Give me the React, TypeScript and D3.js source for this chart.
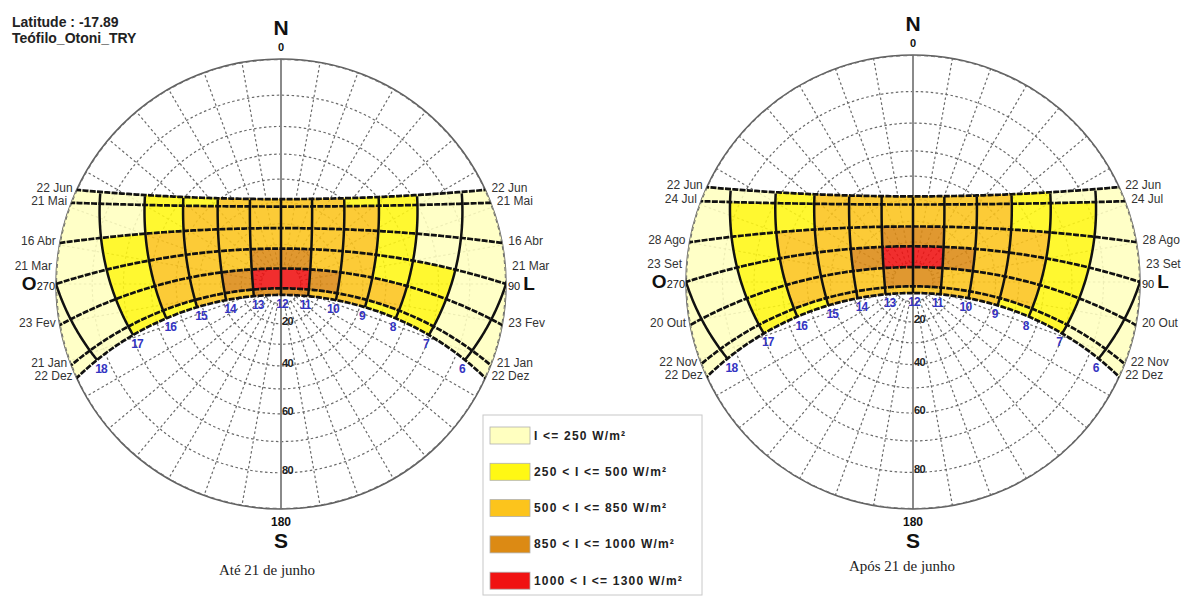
import React from 'react'
import * as d3 from 'd3'

const latitude = -17.89
const stationName = 'Teófilo_Otoni_TRY'

const hourLines = [6, 7, 8, 9, 10, 11, 12, 13, 14, 15, 16, 17, 18]
const cellHours = [5, 6, 7, 8, 9, 10, 11, 12, 13, 14, 15, 16, 17, 18]

const beforeDates = ['22 Dez', '21 Jan', '23 Fev', '21 Mar', '16 Abr', '21 Mai', '22 Jun']
const beforeDecl = [-23.45, -20.1, -10, 0, 10, 20.1, 23.45]
const afterDates = ['22 Dez', '22 Nov', '20 Out', '23 Set', '28 Ago', '24 Jul', '22 Jun']
const afterDecl = [-23.45, -20.1, -10.4, 0, 9.6, 19.8, 23.45]

// irradiance (W/m²) per cell: rows from december up to june, columns by hour 5..18
const beforeIrr = [
  [200, 200, 400, 400, 600, 700, 900, 900, 700, 600, 400, 400, 200, 200],
  [200, 200, 400, 600, 700, 900, 1050, 1050, 900, 700, 600, 400, 200, 200],
  [200, 200, 400, 400, 600, 800, 900, 900, 800, 600, 600, 400, 200, 200],
  [200, 200, 200, 400, 600, 700, 800, 800, 700, 600, 600, 400, 200, 200],
  [200, 200, 200, 400, 600, 700, 700, 700, 700, 600, 400, 200, 200, 200],
  [200, 200, 200, 400, 400, 600, 700, 700, 600, 400, 400, 200, 200, 200],
]
const afterIrr = [
  [200, 200, 400, 400, 600, 700, 700, 700, 700, 600, 400, 400, 200, 200],
  [200, 200, 400, 600, 700, 800, 900, 900, 800, 700, 600, 400, 200, 200],
  [200, 200, 400, 600, 700, 900, 1050, 1050, 900, 700, 600, 400, 200, 200],
  [200, 200, 400, 600, 600, 700, 900, 900, 700, 600, 600, 400, 200, 200],
  [200, 200, 400, 400, 600, 700, 800, 800, 700, 600, 400, 400, 200, 200],
  [200, 200, 200, 400, 600, 600, 700, 700, 600, 600, 400, 200, 200, 200],
]

const classBreaks = [250, 500, 850, 1000]
const classColors = ['#FFFFC0', '#FFF814', '#FCC41C', '#DC8A14', '#F01212']
const legendLabels = [
  'I <= 250 W/m²',
  '250 < I <= 500 W/m²',
  '500 < I <= 850 W/m²',
  '850 < I <= 1000 W/m²',
  '1000 < I <= 1300 W/m²',
]

const zenithRings = [10, 20, 30, 40, 50, 60, 70, 80]
const zenithTicks = [20, 40, 60, 80]

const SANS = 'Liberation Sans, Arial, sans-serif'
const rad = Math.PI / 180

interface SunPathProps {
  id: string
  cx: number
  cy: number
  r: number
  dates: string[]
  decl: number[]
  irr: number[][]
  caption: string
  captionX: number
  captionY: number
}

const SunPath: React.FC<SunPathProps> = ({ id, cx, cy, r, dates, decl, irr, caption, captionX, captionY }) => {
  const phi = latitude * rad
  // stereographic: tan(z/2) -> pixels
  const radius = d3.scaleLinear().domain([0, 1]).range([0, r])
  const color = d3.scaleThreshold<number, string>().domain(classBreaks).range(classColors)
  const line = d3.line()

  const project = (declDeg: number, hourAngle: number): [number, number] => {
    const d = declDeg * rad
    const h = hourAngle * rad
    const e = -Math.cos(d) * Math.sin(h)
    const n = Math.sin(d) * Math.cos(phi) - Math.cos(d) * Math.cos(h) * Math.sin(phi)
    const u = Math.sin(d) * Math.sin(phi) + Math.cos(d) * Math.cos(h) * Math.cos(phi)
    return [cx + radius(e / (1 + u)), cy - radius(n / (1 + u))]
  }
  const ha = (hour: number) => (hour - 12) * 15

  const cells: { d: string; fill: string }[] = []
  irr.forEach((row, i) => {
    const da = decl[i]
    const db = decl[i + 1]
    row.forEach((v, j) => {
      const h0 = cellHours[j]
      const h1 = h0 + 1
      const pts: [number, number][] = []
      d3.range(0, 1.0001, 0.125).forEach((t) => pts.push(project(da, ha(h0 + t))))
      d3.range(0, 1.0001, 0.25).forEach((t) => pts.push(project(da + (db - da) * t, ha(h1))))
      d3.range(1, -0.0001, -0.125).forEach((t) => pts.push(project(db, ha(h0 + t))))
      d3.range(1, -0.0001, -0.25).forEach((t) => pts.push(project(da + (db - da) * t, ha(h0))))
      cells.push({ d: (line(pts) || '') + 'Z', fill: color(v) })
    })
  })

  const dateLines = decl.map((dl) => line(d3.range(-115, 115.1, 1).map((h) => project(dl, h))) || '')
  const hourPaths = hourLines.map(
    (h) => line(d3.range(decl[0], decl[decl.length - 1] + 0.01, 0.5).map((dl) => project(dl, ha(h)))) || ''
  )

  const r10 = radius(Math.tan(5 * rad))
  const spokes = d3.range(10, 360, 10).filter((a) => a !== 180)
  const clipId = `clip-${id}`
  const top = cy - r
  const bottom = cy + r

  return (
    <g>
      <defs>
        <clipPath id={clipId}>
          <circle cx={cx} cy={cy} r={r} />
        </clipPath>
      </defs>

      {/* dashed polar grid */}
      <g stroke="#6a6a6a" strokeWidth={1.2} strokeDasharray="2.5 2.5" fill="none">
        {zenithRings.map((z) => (
          <circle key={z} cx={cx} cy={cy} r={radius(Math.tan((z / 2) * rad))} />
        ))}
        {spokes.map((a) => (
          <line
            key={a}
            x1={cx + r10 * Math.sin(a * rad)}
            y1={cy - r10 * Math.cos(a * rad)}
            x2={cx + r * Math.sin(a * rad)}
            y2={cy - r * Math.cos(a * rad)}
          />
        ))}
      </g>
      <line x1={cx} x2={cx} y1={top} y2={bottom} stroke="#8a8a8a" strokeWidth={2} />
      <circle cx={cx} cy={cy} r={r} fill="none" stroke="#606060" strokeWidth={1.5} />

      {/* irradiance band */}
      <g clipPath={`url(#${clipId})`}>
        <g opacity={0.88}>
          {cells.map((c, i) => (
            <path key={i} d={c.d} fill={c.fill} stroke={c.fill} strokeWidth={0.6} />
          ))}
        </g>
        <circle cx={cx} cy={cy} r={r - 0.5} fill="none" stroke="#707070" strokeWidth={1.2} strokeDasharray="4 3" />
        <g fill="none" stroke="#111" strokeWidth={2.7}>
          {dateLines.map((d, i) => (
            <path key={i} d={d} strokeDasharray="6 1.3" />
          ))}
          {hourPaths.map((d, i) => (
            <path key={i} d={d} strokeWidth={2.5} />
          ))}
        </g>
      </g>

      {/* hour labels */}
      <g fontFamily={SANS} fontWeight="bold" fontSize={12} fill="#3434c2" textAnchor="middle" letterSpacing={-0.8}>
        {hourLines.map((h) => {
          const [x, y] = project(decl[0], ha(h))
          const dx = h < 12 ? -3 : h > 12 ? 4 : 1
          return (
            <text key={h} x={x + dx} y={y + 9} dominantBaseline="central">
              {h}
            </text>
          )
        })}
      </g>

      {/* zenith tick labels */}
      <g fontFamily={SANS} fontWeight="bold" fontSize={11} fill="#222" letterSpacing={-0.5}>
        {zenithTicks.map((z) => (
          <text key={z} x={cx + 1} y={cy + radius(Math.tan((z / 2) * rad)) + 1}>
            {z}
          </text>
        ))}
      </g>

      {/* date labels */}
      <g fontFamily={SANS} fontSize={12} fill="#333">
        {decl.map((dl, i) => {
          const h0 = Math.acos(-Math.tan(phi) * Math.tan(dl * rad)) / rad
          const [xw, yw] = project(dl, h0)
          const [xe, ye] = project(dl, -h0)
          const dy = dl === 0 ? -18 : -2
          return (
            <g key={i}>
              <text x={xw - 4} y={yw + dy} textAnchor="end" dominantBaseline="central">
                {dates[i]}
              </text>
              <text x={xe + 6} y={ye + dy} dominantBaseline="central">
                {dates[i]}
              </text>
            </g>
          )
        })}
      </g>

      {/* cardinal labels */}
      <g fontFamily={SANS} fill="#111" fontWeight="bold">
        <text x={cx} y={top - 24} textAnchor="middle" fontSize={21}>
          N
        </text>
        <text x={cx} y={top - 8} textAnchor="middle" fontSize={11}>
          0
        </text>
        <text x={cx} y={bottom + 17} textAnchor="middle" fontSize={12}>
          180
        </text>
        <text x={cx} y={bottom + 39} textAnchor="middle" fontSize={21}>
          S
        </text>
        <text x={cx - r - 1} y={cy + 6} textAnchor="end">
          <tspan fontSize={19}>O</tspan>
          <tspan fontSize={11} fontWeight="normal">
            270
          </tspan>
        </text>
        <text x={cx + r + 2} y={cy + 6}>
          <tspan fontSize={11} fontWeight="normal">
            90{' '}
          </tspan>
          <tspan fontSize={19}>L</tspan>
        </text>
      </g>

      <text
        x={captionX}
        y={captionY}
        textAnchor="middle"
        fontFamily="Liberation Serif, Times New Roman, serif"
        fontSize={15}
        fill="#222"
      >
        {caption}
      </text>
    </g>
  )
}

const Legend: React.FC<{ x: number; y: number }> = ({ x, y }) => {
  const rowY = d3.scaleLinear().domain([0, 1]).range([y + 12, y + 48.3])
  return (
    <g>
      <rect x={x} y={y} width={219} height={180} fill="#fff" stroke="#c8c8c8" />
      {legendLabels.map((label, i) => (
        <g key={i}>
          <rect x={x + 7} y={rowY(i)} width={40} height={17} fill={classColors[i]} stroke="#b0b0b0" strokeWidth={0.8} />
          <text
            x={x + 51}
            y={rowY(i) + 8.5}
            dominantBaseline="central"
            fontFamily={SANS}
            fontWeight="bold"
            fontSize={12}
            letterSpacing={1.2}
            fill="#222"
          >
            {label}
          </text>
        </g>
      ))}
    </g>
  )
}

export default function App() {
  return (
    <svg
      width={1181}
      height={597}
      viewBox="0 0 1181 597"
      style={{ position: 'absolute', left: 0, top: 0, background: '#fff' }}
    >
      <rect width={1181} height={597} fill="#fff" />
      <g fontFamily={SANS} fontWeight="bold" fontSize={14} fill="#222">
        <text x={12} y={27}>
          Latitude : {latitude}
        </text>
        <text x={12} y={43}>
          {stationName}
        </text>
      </g>
      <SunPath
        id="before"
        cx={281}
        cy={284}
        r={225}
        dates={beforeDates}
        decl={beforeDecl}
        irr={beforeIrr}
        caption="Até 21 de junho"
        captionX={267}
        captionY={575}
      />
      <SunPath
        id="after"
        cx={913}
        cy={282}
        r={227}
        dates={afterDates}
        decl={afterDecl}
        irr={afterIrr}
        caption="Após 21 de junho"
        captionX={902}
        captionY={571}
      />
      <Legend x={483} y={415} />
    </svg>
  )
}
